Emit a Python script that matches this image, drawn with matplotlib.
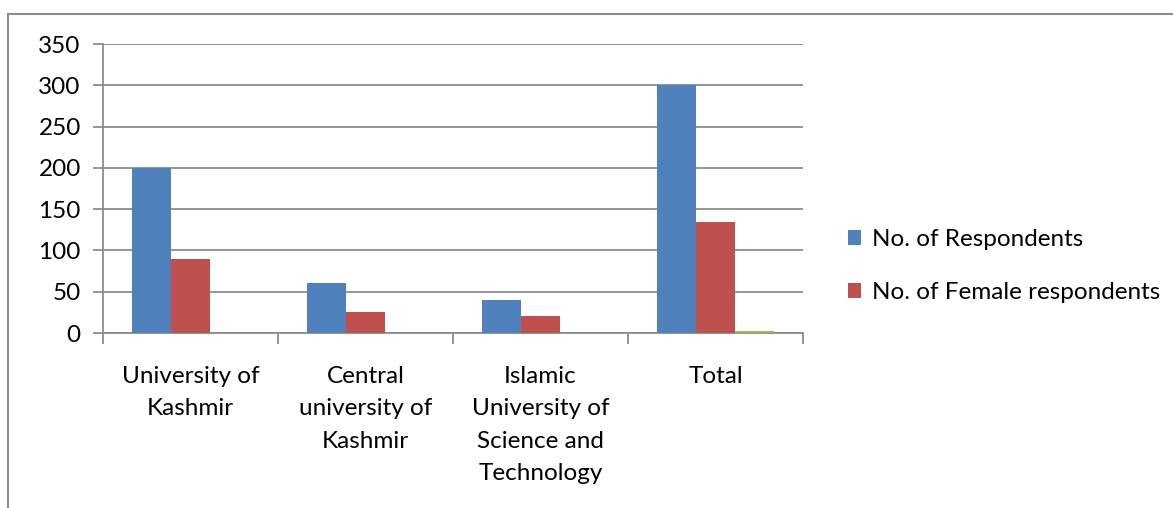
import matplotlib
matplotlib.use("Agg")
import matplotlib.pyplot as plt
from matplotlib.patches import Rectangle
import numpy as np

categories = ["University of\nKashmir", "Central\nuniversity of\nKashmir",
              "Islamic\nUniversity of\nScience and\nTechnology", "Total"]
respondents = [200, 60, 40, 300]
female = [90, 25, 20, 135]
third = [0, 0, 0, 3]
yticks = [0, 50, 100, 150, 200, 250, 300, 350]

plt.rcParams['font.family'] = ['Lato', 'DejaVu Sans']
W, H = 1173, 508
fig = plt.figure(figsize=(W / 100, H / 100), dpi=100)
fig.patch.set_facecolor('white')

# outer chart frame
fig.patches.append(Rectangle((8 / W, -0.1), 1.2, (H - 14) / H + 0.1, transform=fig.transFigure,
                             fill=False, edgecolor='#8c8c8c', linewidth=1.5))

ax = fig.add_axes([103 / W, (H - 333) / H, 700 / W, 289 / H])
x = np.arange(len(categories))
bw = 39 / 175
ax.bar(x - bw, respondents, bw, color='#4f81bd', label='No. of Respondents', zorder=3)
ax.bar(x, female, bw, color='#c0504d', label='No. of Female respondents', zorder=3)
ax.bar(x + bw, third, bw, color='#9bbb59', zorder=3)

ax.set_xlim(-0.5, len(categories) - 0.5)
ax.set_ylim(0, 350)
ax.set_yticks(yticks)
ax.set_yticklabels([str(v) for v in yticks], fontsize=17.5)
ax.yaxis.grid(True, color='#8c8c8c', linewidth=1.3, zorder=0)
ax.set_axisbelow(True)
for s in ['top', 'right']:
    ax.spines[s].set_visible(False)
for s in ['left', 'bottom']:
    ax.spines[s].set_color('#8c8c8c')
    ax.spines[s].set_linewidth(1.3)
ax.tick_params(axis='y', length=7, color='#8c8c8c', width=1.3, pad=9)

# category boundary ticks
ax.set_xticks(np.arange(len(categories) + 1) - 0.5)
ax.set_xticklabels([])
ax.tick_params(axis='x', length=8, color='#8c8c8c', width=1.3, direction='out')
for i, c in enumerate(categories):
    ax.text(i, -40, c, ha='center', va='top', fontsize=17.5, linespacing=1.67,
            transform=ax.transData)

handles, labels = ax.get_legend_handles_labels()
leg = fig.legend(handles, labels, loc='center left', bbox_to_anchor=(826 / W, (H - 266) / H),
                 frameon=False, fontsize=17.5, handlelength=0.55, handleheight=0.55,
                 handletextpad=0.45, labelspacing=1.3)

fig.savefig('out.png', dpi=100, facecolor='white')
